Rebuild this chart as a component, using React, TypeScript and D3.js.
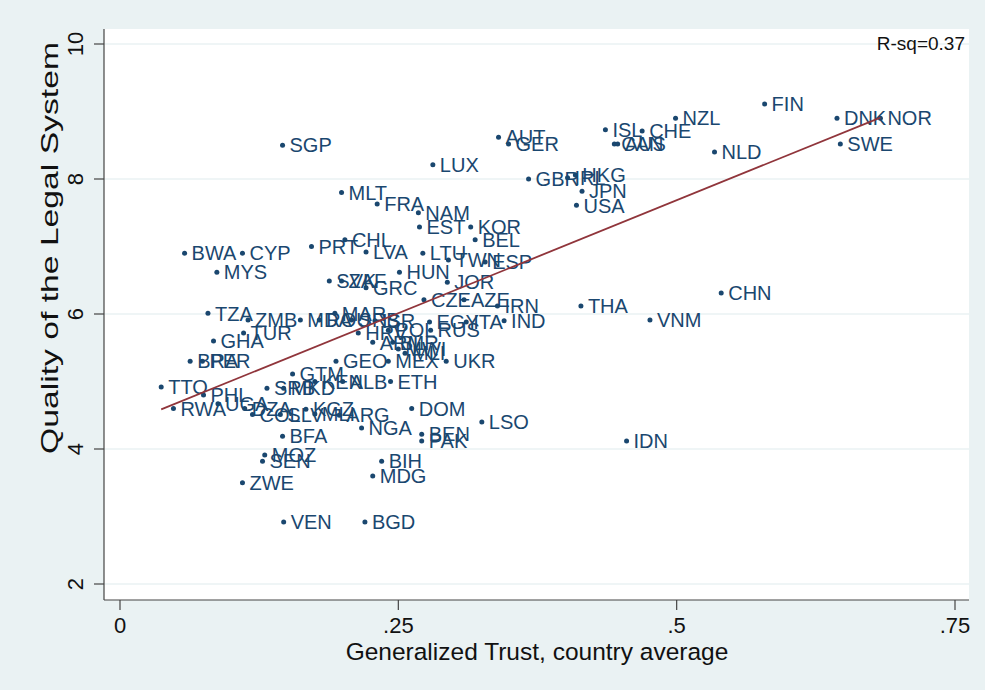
import * as d3 from 'd3';

// country codes, generalized trust (x) and legal system quality (y)
const countries = [
  'FIN', 'DNK', 'NOR', 'SWE', 'NZL', 'CHE', 'ISL', 'CAN', 'AUS', 'NLD',
  'AUT', 'GER', 'LUX', 'SGP', 'GBR', 'IRL', 'HKG', 'JPN', 'USA', 'MLT',
  'FRA', 'NAM', 'EST', 'KOR', 'BEL', 'CHL', 'PRT', 'LVA', 'LTU', 'TWN',
  'ESP', 'HUN', 'JOR', 'BWA', 'CYP', 'MYS', 'SVK', 'ZAF', 'GRC', 'CZE',
  'AZE', 'IRN', 'IND', 'EGY', 'ITA', 'THA', 'CHN', 'VNM', 'IDN', 'LSO',
  'TZA', 'ZMB', 'TUR', 'GHA', 'BRA', 'PER', 'MDA', 'ROU', 'MAR', 'SRB',
  'ISR', 'POL', 'RUS', 'HRV', 'ARM', 'BLR', 'MWI', 'MLI', 'GEO', 'MEX',
  'UKR', 'ETH', 'ALB', 'GTM', 'SRB', 'MKD', 'KEN', 'TTO', 'PHL', 'UGA',
  'RWA', 'DZA', 'COL', 'SLV', 'KGZ', 'MLI', 'ARG', 'NGA', 'BFA', 'DOM',
  'BEN', 'PAK', 'MOZ', 'SEN', 'ZWE', 'BIH', 'MDG', 'VEN', 'BGD',
];
const trust = [
  0.579, 0.644, 0.683, 0.647, 0.499, 0.469, 0.436, 0.444, 0.447, 0.534,
  0.340, 0.349, 0.281, 0.146, 0.367, 0.402, 0.409, 0.415, 0.410, 0.199,
  0.231, 0.268, 0.269, 0.315, 0.319, 0.202, 0.172, 0.221, 0.272, 0.295,
  0.328, 0.251, 0.294, 0.058, 0.110, 0.087, 0.188, 0.199, 0.221, 0.273,
  0.309, 0.339, 0.345, 0.278, 0.311, 0.414, 0.540, 0.476, 0.455, 0.325,
  0.079, 0.115, 0.111, 0.084, 0.063, 0.074, 0.162, 0.179, 0.193, 0.208,
  0.229, 0.241, 0.279, 0.214, 0.227, 0.245, 0.250, 0.256, 0.194, 0.241,
  0.293, 0.243, 0.200, 0.155, 0.132, 0.147, 0.175, 0.037, 0.075, 0.088,
  0.048, 0.112, 0.119, 0.144, 0.167, 0.175, 0.197, 0.217, 0.146, 0.262,
  0.271, 0.271, 0.130, 0.128, 0.110, 0.235, 0.227, 0.147, 0.220,
];
const legal = [
  9.11, 8.90, 8.90, 8.52, 8.90, 8.71, 8.73, 8.52, 8.52, 8.40,
  8.62, 8.52, 8.21, 8.50, 8.00, 8.02, 8.06, 7.82, 7.61, 7.80,
  7.63, 7.50, 7.29, 7.29, 7.10, 7.10, 7.00, 6.92, 6.90, 6.80,
  6.77, 6.62, 6.47, 6.90, 6.90, 6.62, 6.49, 6.49, 6.39, 6.21,
  6.21, 6.12, 5.90, 5.88, 5.88, 6.12, 6.31, 5.91, 4.12, 4.40,
  6.01, 5.91, 5.72, 5.60, 5.30, 5.30, 5.91, 5.91, 6.01, 5.91,
  5.90, 5.76, 5.76, 5.72, 5.58, 5.58, 5.48, 5.42, 5.30, 5.30,
  5.30, 5.00, 5.00, 5.11, 4.90, 4.90, 5.00, 4.92, 4.80, 4.67,
  4.60, 4.60, 4.51, 4.51, 4.59, 4.52, 4.50, 4.31, 4.19, 4.60,
  4.22, 4.12, 3.91, 3.82, 3.50, 3.82, 3.60, 2.92, 2.92,
];

// fitted line
const fitIntercept = 4.34;
const fitSlope = 6.69;
const rSquared = 'R-sq=0.37';

const xTicks = [0, 0.25, 0.5, 0.75];
const xTickLabels = ['0', '.25', '.5', '.75'];
const yTicks = [2, 4, 6, 8, 10];

const W = 985;
const H = 690;
const bg = '#eaf2f3';
const navy = '#1a476f';
const font = '"Liberation Sans", Arial, Helvetica, sans-serif';

export default function App() {
  const x = d3.scaleLinear().domain([0, 0.75]).range([120, 955]);
  const y = d3.scaleLinear().domain([2, 10]).range([584, 44]);
  const plot = { left: 104, right: 969, top: 29, bottom: 600 };

  const [xmin, xmax] = d3.extent(trust) as [number, number];
  const fit = d3.line<number>()
    .x(d => x(d))
    .y(d => y(fitIntercept + fitSlope * d));

  return (
    <svg width={W} height={H} style={{ position: 'absolute', left: 0, top: 0, display: 'block' }}>
      <rect x={0} y={0} width={W} height={H} fill={bg} />
      <rect x={plot.left} y={plot.top} width={plot.right - plot.left} height={plot.bottom - plot.top} fill="#fff" />

      {/* gridlines */}
      {yTicks.map(t => (
        <line key={t} x1={plot.left} x2={plot.right} y1={y(t)} y2={y(t)} stroke={bg} strokeWidth={1.5} />
      ))}

      {/* points and labels */}
      <g fontFamily={font} fontSize={20} fill={navy}>
        {countries.map((c, i) => (
          <g key={i}>
            <circle cx={x(trust[i])} cy={y(legal[i])} r={2.5} fill={navy} />
            <text x={x(trust[i]) + 7} y={y(legal[i])} dy="0.36em">{c}</text>
          </g>
        ))}
      </g>

      <path d={fit([xmin, xmax]) ?? ''} fill="none" stroke="#90353b" strokeWidth={1.8} />

      {/* axes */}
      <line x1={plot.left} x2={plot.left} y1={plot.top} y2={plot.bottom} stroke="#444" strokeWidth={1.2} />
      <line x1={plot.left} x2={plot.right} y1={plot.bottom} y2={plot.bottom} stroke="#444" strokeWidth={1.2} />
      {yTicks.map(t => (
        <g key={t}>
          <line x1={plot.left - 10} x2={plot.left} y1={y(t)} y2={y(t)} stroke="#444" strokeWidth={1.2} />
          <text
            transform={`translate(83,${y(t)}) rotate(-90)`}
            textAnchor="middle"
            fontFamily={font}
            fontSize={22}
            fill="#111"
          >{t}</text>
        </g>
      ))}
      {xTicks.map((t, i) => (
        <g key={t}>
          <line x1={x(t)} x2={x(t)} y1={plot.bottom} y2={plot.bottom + 10} stroke="#444" strokeWidth={1.2} />
          <text x={x(t)} y={633} textAnchor="middle" fontFamily={font} fontSize={22} fill="#111">{xTickLabels[i]}</text>
        </g>
      ))}

      <text
        transform={`translate(58,248) rotate(-90)`}
        textAnchor="middle"
        fontFamily={font}
        fontSize={24}
        textLength={412}
        lengthAdjust="spacingAndGlyphs"
        fill="#111"
      >Quality of the Legal System</text>
      <text x={537} y={660} textAnchor="middle" fontFamily={font} fontSize={24.5} fill="#111">
        Generalized Trust, country average
      </text>
      <text x={965} y={50} textAnchor="end" fontFamily={'"Liberation Sans Narrow", ' + font} fontSize={19} fill="#111">
        {rSquared}
      </text>
    </svg>
  );
}
